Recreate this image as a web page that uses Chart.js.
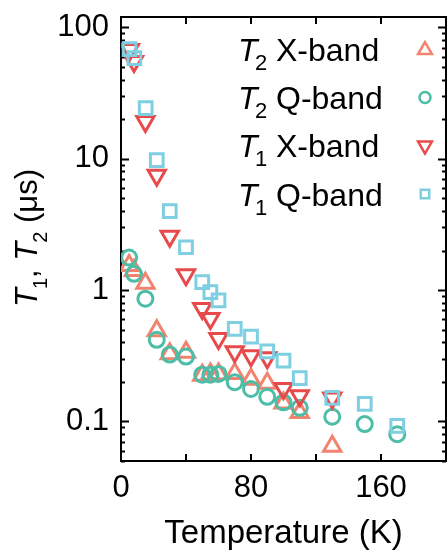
<!DOCTYPE html>
<html lang="en">
<head>
  <meta charset="UTF-8" />
  <title>T1 and T2 vs temperature</title>
  <script src="https://cdn.jsdelivr.net/npm/chart.js"></script>
  <style>
    html, body { margin: 0; padding: 0; background: #fff; }
    #wrap { width: 447px; height: 551px; }
  </style>
</head>
<body>
  <div id="wrap"><canvas id="relaxChart" width="447" height="551"></canvas></div>

  <script>
    // T2, X-band (open up triangles)
    const t2xTemp = [5, 8, 15, 22, 30, 40, 50, 55, 60, 70, 80, 90, 100, 110, 130];
    const t2xTime = [1.54, 1.41, 1.13, 0.49, 0.327, 0.336, 0.225, 0.23, 0.23, 0.232, 0.21, 0.195, 0.138, 0.117, 0.0647];

    // T2, Q-band (open circles)
    const t2qTemp = [5, 8, 15, 22, 30, 40, 50, 55, 60, 70, 80, 90, 100, 110, 130, 150, 170];
    const t2qTime = [1.77, 1.33, 0.86, 0.418, 0.323, 0.312, 0.227, 0.227, 0.23, 0.199, 0.177, 0.154, 0.14, 0.127, 0.1086, 0.0955, 0.08];

    // T1, X-band (open down triangles)
    const t1xTemp = [5.5, 8, 15, 22, 30, 40, 50, 55, 60, 70, 80, 90, 100, 110, 130];
    const t1xTime = [68, 55, 19.2, 7.5, 2.57, 1.31, 0.725, 0.608, 0.428, 0.34, 0.317, 0.306, 0.178, 0.157, 0.151];

    // T1, Q-band (open squares)
    const t1qTemp = [5.3, 8.2, 15.2, 22, 30, 40, 50, 55, 60, 70, 80, 90, 100, 110, 130, 150, 170];
    const t1qTime = [68.4, 58.4, 24.3, 9.77, 3.99, 2.12, 1.15, 0.965, 0.834, 0.507, 0.443, 0.342, 0.291, 0.214, 0.151, 0.136, 0.0927];

    const xTickLabels = [0, 80, 160];
    const yTickLabels = [0.1, 1, 10, 100];
    const legendSub = ['2', '2', '1', '1'];
    const legendBand = ['X-band', 'Q-band', 'X-band', 'Q-band'];

    const FONT = '"Liberation Sans", Arial, sans-serif';
    const colors = ['#F2836F', '#4CBDA6', '#E84A4B', '#7ECFE2'];

    const toPoints = (xs, ys) => xs.map((x, i) => ({ x: x, y: ys[i] }));

    // frame + inward ticks on all four sides
    const frameTicks = {
      id: 'frameTicks',
      beforeDatasetsDraw(chart) {
        const { ctx, chartArea: a, scales: { x, y } } = chart;
        ctx.save();
        ctx.strokeStyle = '#000';
        ctx.lineWidth = 2;
        ctx.beginPath();
        for (let v = 40; v < 200; v += 40) {
          const px = x.getPixelForValue(v);
          ctx.moveTo(px, a.bottom); ctx.lineTo(px, a.bottom - 7);
          ctx.moveTo(px, a.top); ctx.lineTo(px, a.top + 7);
        }
        for (let e = -2; e <= 2; e++) {
          for (let m = 1; m <= 9; m++) {
            const v = m * Math.pow(10, e);
            if (v < y.min || v > y.max) continue;
            const py = Math.round(y.getPixelForValue(v)) + 0.5;
            const len = m === 1 ? 8 : 4;
            ctx.moveTo(a.left, py); ctx.lineTo(a.left + len, py);
            ctx.moveTo(a.right, py); ctx.lineTo(a.right - len, py);
          }
        }
        ctx.stroke();
        ctx.strokeRect(a.left, a.top, a.right - a.left, a.bottom - a.top);
        ctx.restore();
      }
    };

    // axis titles and legend (italic T with subscripts)
    const labelsPlugin = {
      id: 'labelsPlugin',
      afterDraw(chart) {
        const { ctx, chartArea: a } = chart;
        ctx.save();
        ctx.fillStyle = '#000';
        ctx.textBaseline = 'alphabetic';

        // x title
        ctx.font = '33px ' + FONT;
        ctx.textAlign = 'center';
        ctx.fillText('Temperature (K)', (a.left + a.right) / 2, 543);

        // y title, rotated
        ctx.textAlign = 'left';
        ctx.translate(37, 307);
        ctx.rotate(-Math.PI / 2);
        let cx = 0;
        const parts = [
          ['italic 31px ', 'T', 0, -1],
          ['20px ', '1', 10, 0],
          ['31px ', ', ', 0, 0],
          ['italic 31px ', 'T', 0, -1],
          ['20px ', '2', 10, 0],
          ['31px ', ' (\u03bcs)', 0, 0]
        ];
        parts.forEach(([f, t, dy, kern]) => {
          ctx.font = f + FONT;
          ctx.fillText(t, cx, dy);
          cx += ctx.measureText(t).width + kern;
        });
        ctx.setTransform(1, 0, 0, 1, 0, 0);

        // legend
        const styles = [
          { pointStyle: 'triangle', rotation: 0, radius: 8 },
          { pointStyle: 'circle', rotation: 0, radius: 5.5 },
          { pointStyle: 'triangle', rotation: 180, radius: 8 },
          { pointStyle: 'rect', rotation: 0, radius: 6 }
        ];
        const markerY = [50, 97.5, 145.5, 194];
        for (let i = 0; i < 4; i++) {
          const base = 61 + i * 48.2;
          ctx.fillStyle = '#000';
          ctx.font = 'italic 32px ' + FONT;
          ctx.fillText('T', 238, base);
          ctx.font = '22px ' + FONT;
          ctx.fillText(legendSub[i], 255, base + 9);
          ctx.font = '32px ' + FONT;
          ctx.fillText(legendBand[i], 276, base);

          ctx.fillStyle = 'rgba(0,0,0,0)';
          ctx.strokeStyle = colors[i];
          ctx.lineWidth = 2.5;
          Chart.helpers.drawPoint(ctx, { ...styles[i], borderWidth: 2.5 }, 425, markerY[i]);
        }
        ctx.restore();
      }
    };

    const ds = (label, xs, ys, color, style, rot, r, order) => ({
      label: label,
      data: toPoints(xs, ys),
      showLine: false,
      pointStyle: style,
      rotation: rot,
      pointRadius: r,
      pointHoverRadius: r,
      borderColor: color,
      backgroundColor: 'rgba(0,0,0,0)',
      pointBorderWidth: 3,
      order: order
    });

    const noPad = (s) => {
      s.paddingTop = 0; s.paddingBottom = 0;
      s.paddingLeft = 0; s.paddingRight = 0;
    };

    new Chart(document.getElementById('relaxChart'), {
      type: 'scatter',
      data: {
        datasets: [
          ds('T2 X-band', t2xTemp, t2xTime, colors[0], 'triangle', 0, 10, 3),
          ds('T2 Q-band', t2qTemp, t2qTime, colors[1], 'circle', 0, 7.5, 2),
          ds('T1 X-band', t1xTemp, t1xTime, colors[2], 'triangle', 180, 10, 1),
          ds('T1 Q-band', t1qTemp, t1qTime, colors[3], 'rect', 0, 9, 0)
        ]
      },
      options: {
        responsive: false,
        animation: false,
        devicePixelRatio: 1,
        layout: { autoPadding: false, padding: { top: 17, right: 1, left: 0, bottom: 0 } },
        plugins: { legend: { display: false }, tooltip: { enabled: false } },
        scales: {
          x: {
            type: 'linear',
            min: 0,
            max: 200,
            grid: { display: false, drawTicks: false },
            border: { display: false },
            ticks: {
              stepSize: 40,
              autoSkip: false,
              maxRotation: 0,
              padding: 10,
              color: '#000',
              font: { family: FONT, size: 31, lineHeight: 1.1 },
              callback: (v) => xTickLabels.includes(v) ? String(v) : ''
            },
            afterFit: (s) => { s.height = 90; noPad(s); }
          },
          y: {
            type: 'logarithmic',
            min: 0.05,
            max: 120,
            grid: { display: false, drawTicks: false },
            border: { display: false },
            ticks: {
              autoSkip: false,
              padding: 12,
              color: '#000',
              font: { family: FONT, size: 31, lineHeight: 1.1 },
              callback: (v) => {
                const lg = Math.log10(v);
                const hit = yTickLabels.find(t => Math.abs(Math.log10(t) - lg) < 1e-6);
                return hit === undefined ? '' : String(hit);
              }
            },
            afterFit: (s) => { s.width = 121; noPad(s); }
          }
        }
      },
      plugins: [frameTicks, labelsPlugin]
    });
  </script>
</body>
</html>
